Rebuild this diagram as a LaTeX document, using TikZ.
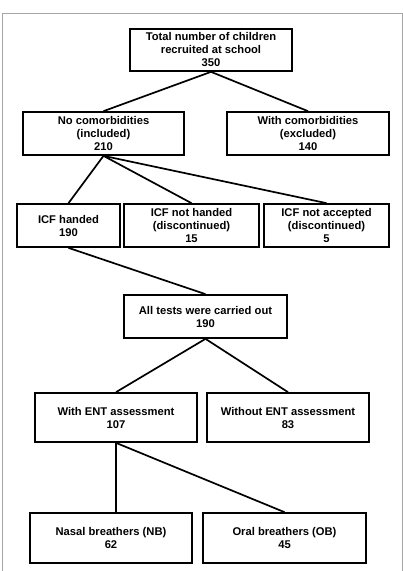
\documentclass[tikz,border=0pt]{standalone}
\usepackage{fontspec}
\setmainfont{Liberation Sans}
\usepackage{tikz}

\begin{document}
\begin{tikzpicture}
		[x=1pt,y=-1pt,every node/.style={shape = rectangle, draw, line width=1.7pt, fill = white, align=center, inner sep=0pt, font=\fontsize{11.2}{13}\selectfont\bfseries}]
		\useasboundingbox (0,0) rectangle (403,571);
		% outer frame, open at the bottom
		\draw[gray!70,line width=1pt] (2,571) -- (2,13) -- (402,13) -- (402,571);
		\node[minimum width=162pt,minimum height=42pt] (tot) at (211,50) {Total number of children\\recruited at school\\350};
		\node[minimum width=161pt,minimum height=43pt] (noc) at (103.5,133.5) {No comorbidities\\(included)\\210};
		\node[minimum width=162pt,minimum height=43pt] (wic) at (308,133.5) {With comorbidities\\(excluded)\\140};
		\node[minimum width=103pt,minimum height=43pt] (icfh) at (68.5,225.5) {ICF handed\\190};
		\node[minimum width=135pt,minimum height=43pt] (icfn) at (191.5,225.5) {ICF not handed\\(discontinued)\\15};
		\node[minimum width=125pt,minimum height=43pt] (icfa) at (326.5,225.5) {ICF not accepted\\(discontinued)\\5};
		\node[minimum width=163pt,minimum height=43pt] (all) at (205.5,316.5) {All tests were carried out\\190};
		\node[minimum width=162pt,minimum height=49pt] (went) at (116,417.5) {With ENT assessment\\107};
		\node[minimum width=162pt,minimum height=49pt] (woent) at (288,417.5) {Without ENT assessment\\83};
		\node[minimum width=162pt,minimum height=50pt] (nb) at (111,538) {Nasal breathers (NB)\\62};
		\node[minimum width=163pt,minimum height=50pt] (ob) at (284.5,538) {Oral breathers (OB)\\45};
		\foreach \from/\to in {tot/noc,tot/wic,noc/icfh,noc/icfn,noc/icfa,icfh/all,all/went,all/woent,went/ob}
		\draw[line width=1.7pt]  (\from.south) -- (\to.north);
		\draw[line width=1.7pt]  (went.south) -- (went.south |- nb.north);
	\end{tikzpicture}
\end{document}
